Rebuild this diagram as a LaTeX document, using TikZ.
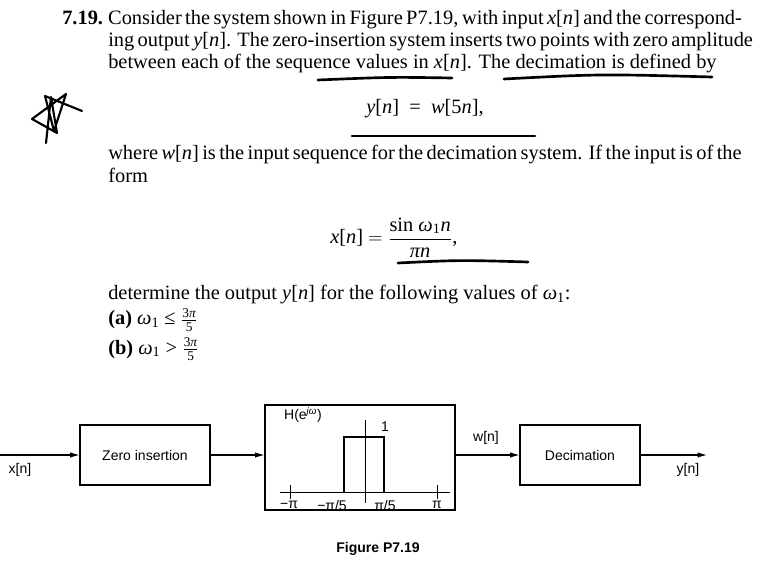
\documentclass[tikz,border=0pt]{standalone}
\usepackage{fontspec}
\setmainfont{Liberation Serif}
\newfontfamily\sansf{Liberation Sans}
\usetikzlibrary{arrows.meta}
\newcommand{\smfr}[2]{$\frac{\mbox{\fontsize{10}{10}\selectfont #1}}{\mbox{\fontsize{10}{10}\selectfont #2}}$}
\begin{document}
\begin{tikzpicture}[x=0.75pt,y=-0.75pt,
  txt/.style={anchor=base west,inner sep=0,font=\fontsize{15.3}{18}\selectfont},
  blk/.style={draw,line width=0.8pt,inner sep=0},
  sig/.style={line width=0.8pt,-{Latex[length=7pt,width=4pt]}},
  lab/.style={font=\sansf\fontsize{10.5}{12}\selectfont,inner sep=1pt},
  pen/.style={line width=2pt,line cap=round}]
\useasboundingbox (0,0) rectangle (770,566);
% text
\node[txt] (l1) at (62,25) {\textbf{7.19.}\ \makebox[457.5pt][s]{Consider the system shown in Figure P7.19, with input \textit{x}[\textit{n}] and the correspond-}};
\node[txt] (l2) at (108,47) {\makebox[457.5pt][s]{ing output \textit{y}[\textit{n}]. The zero-insertion system inserts two points with zero amplitude}};
\node[txt] (l3) at (108,69) {between each of the sequence values in \textit{x}[\textit{n}]. The decimation is defined by};
\node[txt,anchor=base] (e1) at (425,114) {\textit{y}[\textit{n}] \ = \ \textit{w}[5\textit{n}],};
\node[txt] (l4) at (108,160) {\makebox[457.5pt][s]{where \textit{w}[\textit{n}] is the input sequence for the decimation system. If the input is of the}};
\node[txt] (l5) at (108,183) {form};
\node[txt,anchor=base west] (e2) at (330,244) {\textit{x}[\textit{n}] $=$ $\displaystyle\frac{\mbox{sin \textit{ω}\textsubscript{1}\textit{n}}}{\mbox{\textit{πn}}}$,};
\node[txt] (l6) at (108,300) {determine the output \textit{y}[\textit{n}] for the following values of \textit{ω}\textsubscript{1}:};
\node[txt] (la) at (108,325) {\textbf{(a)} \textit{ω}\textsubscript{1} ≤ \smfr{3\textit{π}}{5}};
\node[txt] (lb) at (108,354) {\textbf{(b)} \textit{ω}\textsubscript{1} > \smfr{3\textit{π}}{5}};
% hand marks
\draw[pen] (318,80) .. controls (390,77) .. (452,78);
\draw[pen] (504,79) .. controls (600,74) .. (712,77);
\draw[pen] (352,136) -- (535,136);
\draw[pen] (398,263) .. controls (460,260) .. (528,262);
\draw[line width=1.6pt,line join=round,line cap=round] (46,143) -- (51,97) -- (57,133) -- (32,119) -- (66,94) -- (54,131) -- (45,96) -- (82,111);
% diagram
\node[blk,minimum width=130*0.75pt,minimum height=60*0.75pt,font=\sansf\fontsize{10.5}{12}\selectfont] (zi) at (145,455) {Zero insertion};
\node[blk,minimum width=190*0.75pt,minimum height=105*0.75pt] (hb) at (360,457.5) {};
\node[blk,minimum width=120*0.75pt,minimum height=60*0.75pt,font=\sansf\fontsize{10.5}{12}\selectfont] (dec) at (580,455) {Decimation};
\coordinate (in) at (0,455);
\coordinate (out) at (707,455);
\draw[sig] (in) -- (zi.west);
\draw[sig] (zi.east) -- (hb.west |- zi.east);
\draw[sig] (hb.east |- dec.west) -- (dec.west);
\draw[sig] (dec.east) -- (out);
\node[lab] (xn) at (20,470) {x[n]};
\node[lab] (wn) at (486,438) {w[n]};
\node[lab] (yn) at (688,470) {y[n]};
% spectrum
\coordinate (a0) at (280,492); \coordinate (a1) at (450,492);
\draw[line width=0.6pt] (a0) -- (a1);
\draw[line width=0.6pt] (365,420) -- (365,503);
\draw[line width=0.6pt] (290,485) -- (290,499);
\draw[line width=0.6pt] (437,485) -- (437,499);
\draw[line width=1.6pt] (344,492) -- (344,437) -- (384,437) -- (384,492);
\node[lab] (one) at (385,427) {1};
\node[lab] (H) at (303,415) {H(e\textsuperscript{\textit{jω}})};
\node[lab] (mp) at (289,505) {−π};
\node[lab] (mp5) at (332,505) {−π/5};
\node[lab] (pp5) at (385,505) {π/5};
\node[lab] (pp) at (437,505) {π};
\node[font=\sansf\bfseries\fontsize{10.5}{12}\selectfont] (cap) at (378,549) {Figure P7.19};
\end{tikzpicture}
\end{document}
